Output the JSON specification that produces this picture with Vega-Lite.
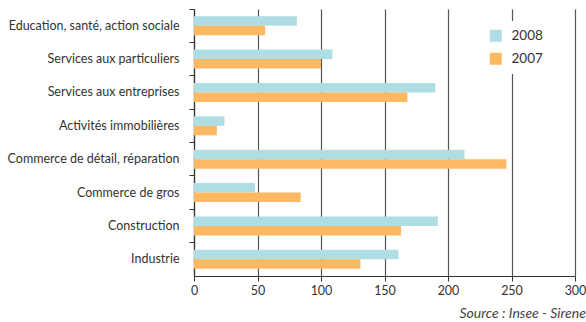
{
  "$schema": "https://vega.github.io/schema/vega-lite/v6.json",
  "autosize": {"type": "none"},
  "width": 381,
  "height": 267,
  "padding": {"left": 194, "top": 9, "right": 11, "bottom": 46},
  "background": "white",
  "config": {
    "font": "Lato",
    "view": {"stroke": null},
    "axis": {"labelFont": "Lato", "labelColor": "#333333", "domainColor": "#333333", "tickColor": "#333333"}
  },
  "title": {
    "text": "Source : Insee - Sirene",
    "orient": "bottom",
    "anchor": "end",
    "fontStyle": "italic",
    "fontWeight": "normal",
    "fontSize": 14,
    "color": "#444444",
    "offset": 10,
    "dx": 0
  },
  "data": {
    "values": [
      {"secteur": "Education, santé, action sociale", "annee": "2008", "valeur": 81},
      {"secteur": "Education, santé, action sociale", "annee": "2007", "valeur": 56},
      {"secteur": "Services aux particuliers", "annee": "2008", "valeur": 109},
      {"secteur": "Services aux particuliers", "annee": "2007", "valeur": 100},
      {"secteur": "Services aux entreprises", "annee": "2008", "valeur": 190},
      {"secteur": "Services aux entreprises", "annee": "2007", "valeur": 168},
      {"secteur": "Activités immobilières", "annee": "2008", "valeur": 24},
      {"secteur": "Activités immobilières", "annee": "2007", "valeur": 18},
      {"secteur": "Commerce de détail, réparation", "annee": "2008", "valeur": 213},
      {"secteur": "Commerce de détail, réparation", "annee": "2007", "valeur": 246},
      {"secteur": "Commerce de gros", "annee": "2008", "valeur": 48},
      {"secteur": "Commerce de gros", "annee": "2007", "valeur": 84},
      {"secteur": "Construction", "annee": "2008", "valeur": 192},
      {"secteur": "Construction", "annee": "2007", "valeur": 163},
      {"secteur": "Industrie", "annee": "2008", "valeur": 161},
      {"secteur": "Industrie", "annee": "2007", "valeur": 131}
    ]
  },
  "mark": {"type": "bar"},
  "encoding": {
    "y": {
      "field": "secteur",
      "type": "nominal",
      "sort": null,
      "scale": {"paddingInner": 0, "paddingOuter": 0},
      "axis": {
        "title": null,
        "bandPosition": 0,
        "tickSize": 5,
        "labelPadding": 10,
        "labelFontSize": 12.5,
        "grid": false,
        "domainWidth": 1.2
      }
    },
    "yOffset": {
      "field": "annee",
      "type": "nominal",
      "sort": ["2008", "2007"],
      "scale": {"domain": ["2008", "2007"], "paddingInner": 0, "paddingOuter": 0.76}
    },
    "x": {
      "field": "valeur",
      "type": "quantitative",
      "scale": {"domain": [0, 300], "nice": false},
      "axis": {
        "title": null,
        "values": [0, 50, 100, 150, 200, 250, 300],
        "tickSize": 5,
        "labelFontSize": 12.5,
        "labelPadding": 3,
        "labelFlush": false,
        "grid": true,
        "gridColor": "#555555",
        "gridWidth": 1.2,
        "domainWidth": 1.2
      }
    },
    "color": {
      "field": "annee",
      "type": "nominal",
      "scale": {"domain": ["2008", "2007"], "range": ["#aedde3", "#fdb862"]},
      "legend": {
        "title": null,
        "orient": "none",
        "legendX": 287,
        "legendY": 12,
        "padding": 8,
        "fillColor": "white",
        "symbolType": "square",
        "symbolSize": 144,
        "symbolStrokeWidth": 0,
        "labelFontSize": 13.5,
        "labelColor": "#333333",
        "rowPadding": 8,
        "labelOffset": 9
      }
    }
  }
}
